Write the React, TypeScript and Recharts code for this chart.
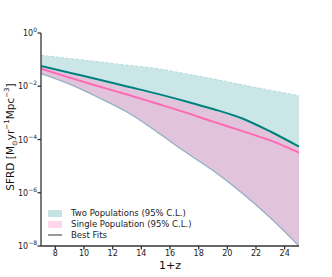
import React from 'react';
import { ComposedChart, Area, Line, XAxis, YAxis } from 'recharts';

// redshift grid (1+z)
const onePlusZ = [7, 9, 11, 13, 15, 17, 19, 21, 23, 25];

// two populations: 95% C.L. band and best fit
const twoHigh = [1.45e-1, 1.1e-1, 8.3e-2, 6.2e-2, 4.7e-2, 3.0e-2, 1.9e-2, 1.15e-2, 7.1e-3, 4.4e-3];
const twoBest = [5.8e-2, 3.2e-2, 1.8e-2, 9.8e-3, 5.4e-3, 2.8e-3, 1.4e-3, 6.3e-4, 2.0e-4, 5.4e-5];

// single population: 95% C.L. band and best fit
const singleHigh = [5.3e-2, 2.9e-2, 1.6e-2, 8.8e-3, 4.8e-3, 2.5e-3, 1.25e-3, 5.6e-4, 1.8e-4, 4.8e-5];
const singleBest = [4.6e-2, 2.1e-2, 1.0e-2, 4.9e-3, 2.3e-3, 1.07e-3, 4.7e-4, 2.1e-4, 9.3e-5, 3.2e-5];

// shared lower edge of both bands
const bandLow = [3.0e-2, 1.2e-2, 3.8e-3, 1.07e-3, 2.1e-4, 3.6e-5, 6.8e-6, 1.0e-6, 1.15e-7, 1.0e-8];

const xTicks = [8, 10, 12, 14, 16, 18, 20, 22, 24];
const yTicks = [1e-8, 1e-6, 1e-4, 1e-2, 1];

const rows = onePlusZ.map((x, i) => ({
  x,
  twoBand: [bandLow[i], twoHigh[i]],
  singleBand: [bandLow[i], singleHigh[i]],
  twoHigh: twoHigh[i],
  low: bandLow[i],
  twoBest: twoBest[i],
  singleBest: singleBest[i],
}));

const FONT = '"DejaVu Sans", sans-serif';
const AXIS = '#333';

const YTick = (props: any) => {
  const { x, y, payload } = props;
  const exp = Math.round(Math.log10(payload.value));
  return (
    <text x={x + 1.5} y={y + 3} textAnchor="end" fontFamily={FONT} fontSize={8} fill="#222">
      10
      <tspan dy={-4} fontSize={6}>{exp === 0 ? '0' : '\u2212' + -exp}</tspan>
    </text>
  );
};

const XTick = (props: any) => {
  const { x, y, payload } = props;
  return (
    <text x={x} y={y + 4} textAnchor="middle" fontFamily={FONT} fontSize={8} fill="#222">
      {payload.value}
    </text>
  );
};

const NoTick = () => <g />;

const legendRow: React.CSSProperties = {
  position: 'absolute',
  left: 48,
  display: 'flex',
  alignItems: 'center',
  height: 10,
  fontFamily: FONT,
  fontSize: 8.5,
  color: '#222',
  whiteSpace: 'nowrap',
};

export default function App() {
  return (
    <div style={{ position: 'absolute', left: 0, top: 0, width: 332, height: 277, background: '#fff' }}>
      <ComposedChart width={332} height={277} data={rows} margin={{ top: 33, right: 33, bottom: 0, left: 0 }}>
        <XAxis
          dataKey="x"
          type="number"
          domain={[7, 25]}
          ticks={xTicks}
          allowDataOverflow
          height={31}
          stroke={AXIS}
          strokeWidth={1.3}
          tickSize={3.5}
          tick={XTick}
        />
        <XAxis
          xAxisId="top"
          dataKey="x"
          type="number"
          orientation="top"
          domain={[7, 25]}
          ticks={xTicks}
          allowDataOverflow
          height={0}
          mirror
          stroke={AXIS}
          strokeWidth={1.3}
          tickSize={3.5}
          tick={NoTick}
        />
        <YAxis
          type="number"
          scale="log"
          domain={[1e-8, 1]}
          ticks={yTicks}
          allowDataOverflow
          width={41}
          stroke={AXIS}
          strokeWidth={1.3}
          tickSize={3.5}
          tick={YTick}
        />
        <YAxis
          yAxisId="right"
          type="number"
          scale="log"
          orientation="right"
          domain={[1e-8, 1]}
          ticks={yTicks}
          allowDataOverflow
          width={0}
          mirror
          stroke={AXIS}
          strokeWidth={1.3}
          tickSize={3.5}
          tick={NoTick}
        />
        <Area dataKey="twoBand" type="monotone" fill="#cae6e6" fillOpacity={1} stroke="none" isAnimationActive={false} />
        <Area dataKey="singleBand" type="monotone" fill="#e2c3dc" fillOpacity={1} stroke="none" isAnimationActive={false} />
        <Line dataKey="twoHigh" type="monotone" stroke="#b4dcdc" strokeWidth={1} strokeDasharray="3 2" dot={false} isAnimationActive={false} />
        <Line dataKey="low" type="monotone" stroke="#8fb0c2" strokeWidth={1.2} dot={false} isAnimationActive={false} />
        <Line dataKey="twoBest" type="monotone" stroke="#00807c" strokeWidth={2} dot={false} isAnimationActive={false} />
        <Line dataKey="singleBest" type="monotone" stroke="#ff69b4" strokeWidth={2} dot={false} isAnimationActive={false} />
      </ComposedChart>

      {/* legend */}
      <div style={{ ...legendRow, top: 208 }}>
        <span style={{ width: 14, height: 7, background: '#c4e4e4', marginRight: 9 }} />
        Two Populations (95% C.L.)
      </div>
      <div style={{ ...legendRow, top: 219 }}>
        <span style={{ width: 14, height: 7, background: '#ffd6ec', marginRight: 9 }} />
        Single Population (95% C.L.)
      </div>
      <div style={{ ...legendRow, top: 230 }}>
        <span style={{ width: 14, height: 2, background: '#999', marginRight: 9 }} />
        Best Fits
      </div>

      {/* axis titles */}
      <div
        style={{
          position: 'absolute',
          left: 170,
          top: 259,
          transform: 'translateX(-50%)',
          fontFamily: FONT,
          fontSize: 11,
          lineHeight: '13px',
          color: '#111',
          whiteSpace: 'nowrap',
        }}
      >
        1+z
      </div>
      <div
        style={{
          position: 'absolute',
          left: 11,
          top: 137,
          transform: 'translate(-50%, -50%) rotate(-90deg)',
          fontFamily: FONT,
          fontSize: 10.5,
          color: '#111',
          whiteSpace: 'nowrap',
        }}
      >
        SFRD [M<sub style={{ fontSize: 7 }}>⊙</sub>yr<sup style={{ fontSize: 7 }}>−1</sup>Mpc<sup style={{ fontSize: 7 }}>−3</sup>]
      </div>
    </div>
  );
}
